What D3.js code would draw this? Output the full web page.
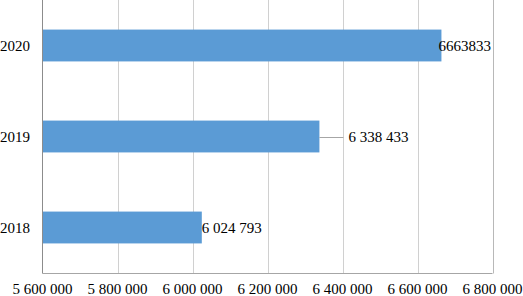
<!DOCTYPE html>
<html><head><meta charset="utf-8">
<script src="https://cdn.jsdelivr.net/npm/d3@7"></script>
<style>body{margin:0;background:#fff}svg{display:block}</style>
</head><body>
<script>
const categories = ["2020", "2019", "2018"];
const values = [6663833, 6338433, 6024793];
const valueLabels = ["6663833", "6 338 433", "6 024 793"];
const tickValues = [5600000, 5800000, 6000000, 6200000, 6400000, 6600000, 6800000];

const W = 523, H = 296;
const svg = d3.select("body").append("svg").attr("width", W).attr("height", H);
const x = d3.scaleLinear().domain([5600000, 6800000]).range([42.5, 492.5]);
const y = d3.scaleBand().domain(categories).range([0, 273]).paddingInner(0.65).paddingOuter(0.325);
const fmt = v => d3.format(",")(v).replace(/,/g, " ");
const font = "'Liberation Serif', 'Times New Roman', serif";

// gridlines
svg.append("g").selectAll("line").data(tickValues.slice(1)).join("line")
  .attr("x1", d => Math.round(x(d)) + 0.5).attr("x2", d => Math.round(x(d)) + 0.5)
  .attr("y1", 0).attr("y2", 273.5)
  .attr("stroke", (d, i, a) => i === a.length - 1 ? "#b8b8b8" : "#d0d0d0").attr("stroke-width", 1);

// bars
svg.append("g").selectAll("rect").data(categories).join("rect")
  .attr("x", x(5600000)).attr("y", d => y(d))
  .attr("width", (d, i) => x(values[i]) - x(5600000))
  .attr("height", y.bandwidth()).attr("fill", "#5B9BD5");

// axes lines
svg.append("line").attr("x1", 42.5).attr("x2", 42.5).attr("y1", 0).attr("y2", 273.5).attr("stroke", "#8c8c8c");
svg.append("line").attr("x1", 42.5).attr("x2", 492.5).attr("y1", 273.5).attr("y2", 273.5).attr("stroke", "#a6a6a6");

// x tick labels
svg.append("g").selectAll("text").data(tickValues).join("text")
  .attr("x", d => x(d)).attr("y", 293.5)
  .attr("text-anchor", "middle").attr("font-family", font).attr("font-size", 15).attr("fill", "#000")
  .text(fmt);

// category labels
svg.append("g").selectAll("text").data(categories).join("text")
  .attr("x", 0).attr("y", d => y(d) + y.bandwidth() / 2 + 5)
  .attr("font-family", font).attr("font-size", 15).attr("fill", "#000")
  .text(d => d);

// leader line for 2019
const i19 = 1;
svg.append("line")
  .attr("x1", x(values[i19])).attr("x2", x(values[i19]) + 24)
  .attr("y1", Math.round(y(categories[i19]) + y.bandwidth() / 2) + 0.5)
  .attr("y2", Math.round(y(categories[i19]) + y.bandwidth() / 2) + 0.5)
  .attr("stroke", "#a6a6a6");

// value labels
const offsets = [-3, 29, 0];
svg.append("g").selectAll("text").data(categories).join("text")
  .attr("x", (d, i) => x(values[i]) + offsets[i])
  .attr("y", d => y(d) + y.bandwidth() / 2 + 5)
  .attr("font-family", font).attr("font-size", 15).attr("fill", "#000")
  .text((d, i) => valueLabels[i]);
</script>
</body></html>
